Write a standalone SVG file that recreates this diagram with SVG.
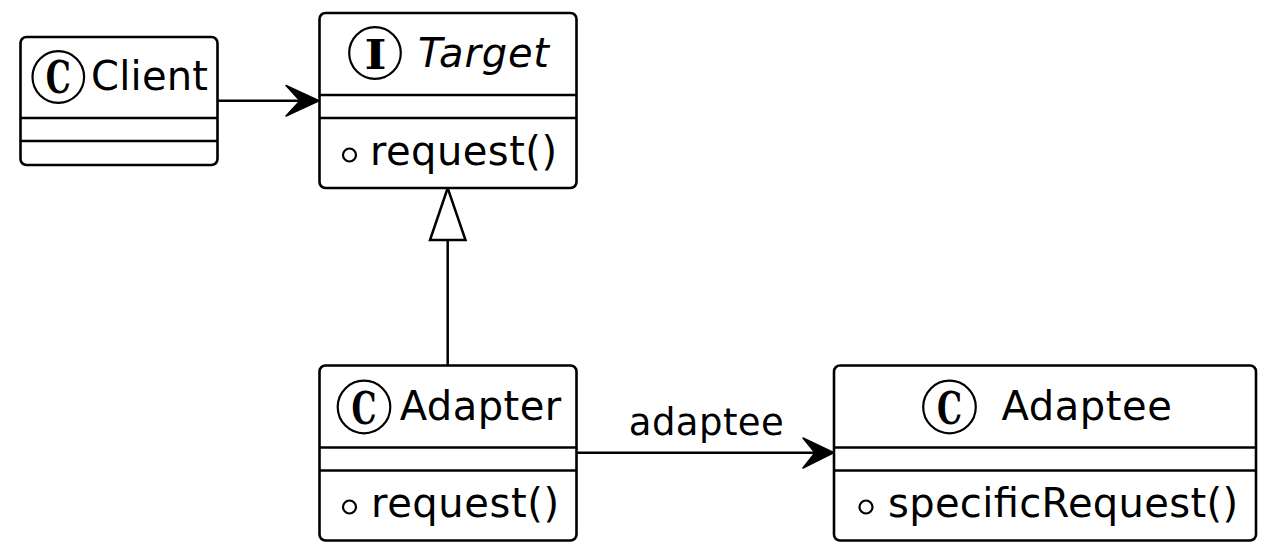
<svg xmlns="http://www.w3.org/2000/svg" width="1273" height="560" viewBox="0 0 1273 560">
<defs>
<style>
.box{fill:#ffffff;stroke:#000000;stroke-width:2.6}
.div{stroke:#000000;stroke-width:2.6}
.ico{fill:#ffffff;stroke:#000000;stroke-width:2.2}
.glyph{font-family:"DejaVu Serif","Liberation Serif",serif;font-weight:bold;fill:#000000}
.name{font-family:"DejaVu Sans","Noto Sans",sans-serif;font-size:40px;fill:#000000}
.meth{font-family:"DejaVu Sans","Noto Sans",sans-serif;font-size:40px;fill:#000000}
.vis{fill:#ffffff;stroke:#000000;stroke-width:2.2}
.lbl{font-family:"DejaVu Sans","Noto Sans",sans-serif;font-size:37px;fill:#000000}
.edge{fill:none;stroke:#000000;stroke-width:2.5}
.head{fill:#000000;stroke:#000000;stroke-width:1.5;stroke-linejoin:round}
.tri{fill:#ffffff;stroke:#000000;stroke-width:2.5}
</style>
</defs>
<rect width="1273" height="560" fill="#ffffff"/>

<g id="connectors">
  <g id="client-target">
    <line class="edge" x1="218" y1="100.7" x2="312" y2="100.7"/>
    <polygon class="head" points="319,100.7 286,85.5 300,100.7 286,116"/>
  </g>
  <g id="adapter-target">
    <line class="edge" x1="447.7" y1="240" x2="447.7" y2="365"/>
    <polygon class="tri" points="447.7,188 430,240 465.5,240"/>
  </g>
  <g id="adapter-adaptee">
    <line class="edge" x1="576" y1="452.7" x2="826" y2="452.7"/>
    <polygon class="head" points="834,452.7 803,438 815,452.7 803,468"/>
    <text class="lbl" x="628.8" y="435" textLength="155">adaptee</text>
  </g>
</g>

<g id="Client">
  <rect class="box" x="20.5" y="37" width="197" height="128" rx="6"/>
  <line class="div" x1="20.5" y1="118" x2="217.5" y2="118"/>
  <line class="div" x1="20.5" y1="141" x2="217.5" y2="141"/>
  <circle class="ico" cx="58.3" cy="77" r="25.8"/>
  <text class="glyph" x="58.3" y="93" font-size="44" text-anchor="middle" textLength="25" lengthAdjust="spacingAndGlyphs">C</text>
  <text class="name" x="91" y="90" textLength="117">Client</text>
</g>

<g id="Target">
  <rect class="box" x="319.5" y="13" width="257" height="175" rx="6"/>
  <line class="div" x1="319.5" y1="95" x2="576.5" y2="95"/>
  <line class="div" x1="319.5" y1="118" x2="576.5" y2="118"/>
  <circle class="ico" cx="375" cy="53" r="25.8"/>
  <text class="glyph" x="375.5" y="68.5" font-size="41" text-anchor="middle" textLength="22" lengthAdjust="spacingAndGlyphs">I</text>
  <text class="name" x="418" y="66.5" font-style="italic" textLength="131">Target</text>
  <circle class="vis" cx="349.5" cy="155" r="6.5"/>
  <text class="meth" x="370" y="165" textLength="187">request()</text>
</g>

<g id="Adapter">
  <rect class="box" x="319.5" y="365.5" width="257" height="175" rx="6"/>
  <line class="div" x1="319.5" y1="447.5" x2="576.5" y2="447.5"/>
  <line class="div" x1="319.5" y1="470.5" x2="576.5" y2="470.5"/>
  <circle class="ico" cx="364" cy="407" r="26.3"/>
  <text class="glyph" x="364" y="423.5" font-size="45" text-anchor="middle" textLength="25" lengthAdjust="spacingAndGlyphs">C</text>
  <text class="name" x="399.7" y="420" textLength="161.5">Adapter</text>
  <circle class="vis" cx="349.5" cy="507" r="6.5"/>
  <text class="meth" x="371" y="517" textLength="188">request()</text>
</g>

<g id="Adaptee">
  <rect class="box" x="834" y="365.5" width="422" height="175" rx="6"/>
  <line class="div" x1="834" y1="447.5" x2="1256" y2="447.5"/>
  <line class="div" x1="834" y1="470.5" x2="1256" y2="470.5"/>
  <circle class="ico" cx="949.5" cy="407" r="26.3"/>
  <text class="glyph" x="949.5" y="423.5" font-size="45" text-anchor="middle" textLength="25" lengthAdjust="spacingAndGlyphs">C</text>
  <text class="name" x="1001.4" y="420" textLength="170.5">Adaptee</text>
  <circle class="vis" cx="866" cy="507" r="6.5"/>
  <text class="meth" x="888" y="517" textLength="350">specificRequest()</text>
</g>
</svg>
